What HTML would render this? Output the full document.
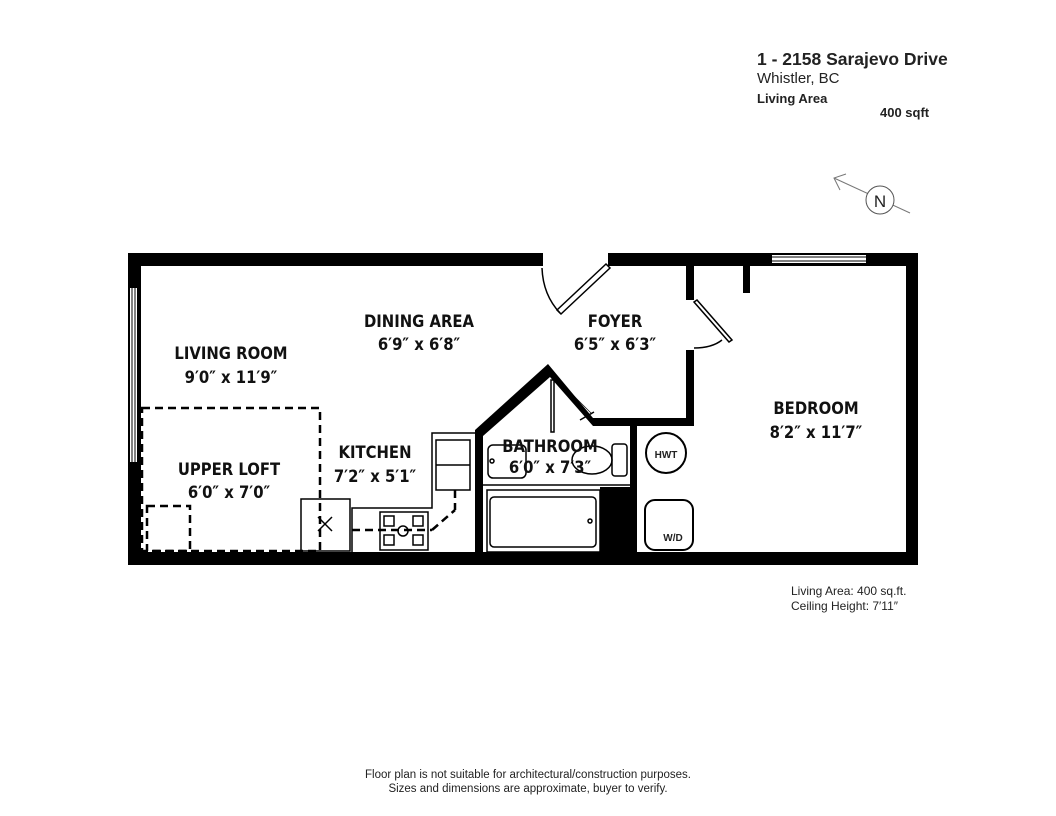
<!DOCTYPE html>
<html><head><meta charset="utf-8"><style>
html,body{margin:0;padding:0;background:#fff;}
svg{display:block;}
.h{font-family:"Liberation Sans",sans-serif;fill:#222;}
.r{font-family:"DejaVu Sans Condensed","Liberation Sans Narrow","Liberation Sans",sans-serif;font-weight:bold;fill:#111;text-anchor:middle;font-size:16.5px;}
</style></head><body>
<svg width="1056" height="816" viewBox="0 0 1056 816" xmlns="http://www.w3.org/2000/svg">
<text class="h" x="757" y="65" font-size="17.5" font-weight="bold">1 - 2158 Sarajevo Drive</text>
<text class="h" x="757" y="83" font-size="15">Whistler, BC</text>
<text class="h" x="757" y="103" font-size="13" font-weight="bold">Living Area</text>
<text class="h" x="880" y="117" font-size="13" font-weight="bold">400 sqft</text>
<line x1="834" y1="178" x2="910" y2="213" stroke="#777" stroke-width="1"/>
<polyline points="846,174 834,178 840,190" fill="none" stroke="#777" stroke-width="1"/>
<circle cx="880" cy="200" r="14" fill="#fff" stroke="#555"/>
<text class="h" x="880" y="207" font-size="17" text-anchor="middle">N</text>

<g fill="#000">
<rect x="128" y="253" width="415" height="13"/>
<rect x="608" y="253" width="310" height="13"/>
<rect x="128" y="253" width="13" height="312"/>
<rect x="906" y="253" width="12" height="312"/>
<rect x="128" y="552" width="790" height="13"/>
<rect x="686" y="266" width="8" height="34"/>
<rect x="686" y="350" width="8" height="76"/>
<rect x="593" y="418" width="101" height="8"/>
<rect x="743" y="266" width="7" height="27"/>
<polygon points="593,418 548,364 475,430 475,552 483,552 483,436 550,377 593,426"/>
<rect x="630" y="425" width="7" height="127"/>
<rect x="600" y="487" width="30" height="65"/>
</g>
<rect x="130" y="288" width="7" height="174" fill="#fff"/>
<line x1="132" y1="288" x2="132" y2="462" stroke="#000" stroke-width="1"/>
<line x1="135" y1="288" x2="135" y2="462" stroke="#000" stroke-width="1"/>
<rect x="772" y="255" width="94" height="8" fill="#fff"/>
<line x1="772" y1="257" x2="866" y2="257" stroke="#000"/>
<line x1="772" y1="261" x2="866" y2="261" stroke="#000"/>

<g fill="none" stroke="#000" stroke-width="1.5">
<polygon points="606,264 610,268 561,314 557,310"/>
<path d="M542,268 Q543,295 560,313"/>
<polygon points="694,302 697,300 732,340 729,342"/>
<path d="M694,348 Q712,348 722,340"/>
<rect x="551" y="380" width="3" height="52"/>
<path d="M553,375 L592,414" stroke-width="0.6"/>
<path d="M580,420 L594,412"/>
</g>

<g fill="none" stroke="#000" stroke-width="2.5" stroke-dasharray="8,5">
<rect x="142" y="408" width="178" height="143"/>
<rect x="147" y="506" width="43" height="45"/>
<line x1="352" y1="530" x2="432" y2="530"/>
<line x1="432" y1="530" x2="455" y2="510"/>
<line x1="455" y1="490" x2="455" y2="510"/>
</g>
<g fill="none" stroke="#000" stroke-width="1.5">
<polyline points="352,552 352,508 432,508 432,433 478,433"/>
<rect x="436" y="440" width="34" height="50"/>
<line x1="436" y1="465" x2="470" y2="465"/>
<rect x="301" y="499" width="49" height="52"/>
<line x1="318" y1="517" x2="332" y2="531"/><line x1="332" y1="517" x2="318" y2="531"/>
<rect x="380" y="512" width="48" height="38"/>
<rect x="384" y="516" width="10" height="10"/><rect x="413" y="516" width="10" height="10"/>
<rect x="384" y="535" width="10" height="10"/><rect x="413" y="535" width="10" height="10"/>
<circle cx="403" cy="531" r="5"/>
<rect x="487" y="490" width="113" height="62"/>
<rect x="490" y="497" width="106" height="50" rx="4"/>
<circle cx="590" cy="521" r="2"/>
<rect x="488" y="445" width="38" height="33" rx="5"/>
<circle cx="492" cy="461" r="2"/>
<ellipse cx="592" cy="460" rx="20" ry="14"/>
<rect x="612" y="444" width="15" height="32" rx="3"/>
<line x1="483" y1="485" x2="630" y2="485"/>
<circle cx="666" cy="453" r="20" stroke-width="2"/>
<rect x="645" y="500" width="48" height="50" rx="10" stroke-width="2"/>
</g>
<text class="h" x="666" y="458" font-size="10" font-weight="bold" text-anchor="middle">HWT</text>
<text class="h" x="673" y="541" font-size="10" font-weight="bold" text-anchor="middle">W/D</text>

<text class="r" x="231" y="359">LIVING ROOM</text>
<text class="r" x="231" y="383">9′0″ x 11′9″</text>
<text class="r" x="419" y="327">DINING AREA</text>
<text class="r" x="419" y="350">6′9″ x 6′8″</text>
<text class="r" x="615" y="327">FOYER</text>
<text class="r" x="615" y="350">6′5″ x 6′3″</text>
<text class="r" x="816" y="414">BEDROOM</text>
<text class="r" x="816" y="438">8′2″ x 11′7″</text>
<text class="r" x="229" y="475">UPPER LOFT</text>
<text class="r" x="229" y="498">6′0″ x 7′0″</text>
<text class="r" x="375" y="458">KITCHEN</text>
<text class="r" x="375" y="482">7′2″ x 5′1″</text>
<text class="r" x="550" y="452">BATHROOM</text>
<text class="r" x="550" y="473">6′0″ x 7′3″</text>

<text class="h" x="791" y="595" font-size="12">Living Area: 400 sq.ft.</text>
<text class="h" x="791" y="610" font-size="12">Ceiling Height: 7′11″</text>
<text class="h" x="528" y="778" font-size="11.5" text-anchor="middle" fill="#555">Floor plan is not suitable for architectural/construction purposes.</text>
<text class="h" x="528" y="792" font-size="11.5" text-anchor="middle" fill="#555">Sizes and dimensions are approximate, buyer to verify.</text>
</svg>
</body></html>
